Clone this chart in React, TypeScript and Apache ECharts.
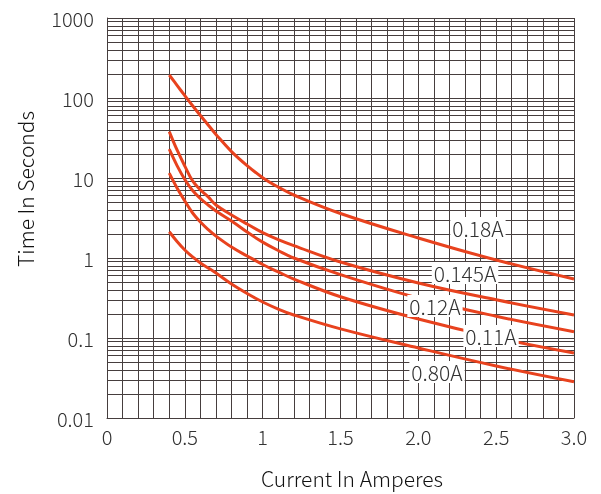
import React, { useEffect, useRef } from "react";
import * as echarts from "echarts";

// Current (A) sample points shared by all curves
const currents = [0.4, 0.45, 0.5, 0.55, 0.6, 0.65, 0.7, 0.8, 0.9, 1.0, 1.1, 1.2, 1.5, 2.0, 2.5, 3.0];

// Trip time (s) for each rated-current curve
const t018 = [194, 144, 107, 80, 60.4, 46, 35, 21.4, 14.3, 10.1, 7.7, 6.13, 3.6, 1.78, 0.944, 0.546];
const t0145 = [38, 22.4, 14.1, 9.2, 7.1, 5.8, 4.6, 3.45, 2.66, 2.08, 1.7, 1.43, 0.89, 0.487, 0.3, 0.194];
const t012 = [22.9, 14.3, 9.58, 6.98, 5.54, 4.6, 3.87, 2.9, 2.11, 1.58, 1.24, 1.0, 0.62, 0.316, 0.187, 0.12];
const t011 = [11.5, 7.5, 5.16, 3.65, 2.82, 2.27, 1.88, 1.37, 1.06, 0.83, 0.67, 0.546, 0.328, 0.173, 0.101, 0.065];
const t080 = [2.13, 1.61, 1.26, 1.03, 0.866, 0.75, 0.65, 0.473, 0.36, 0.282, 0.23, 0.194, 0.13, 0.075, 0.0447, 0.0284];

const curveNames = ["0.18A", "0.145A", "0.12A", "0.11A", "0.80A"];
const curveTimes = [t018, t0145, t012, t011, t080];
// label anchors in data coordinates [current, time]
const labelAnchors: [number, number][] = [
  [2.383, 2.37],
  [2.3, 0.65],
  [2.107, 0.251],
  [2.467, 0.106],
  [2.12, 0.0376],
];

const xTickLabels: Record<number, string> = { 0: "0", 5: "0.5", 10: "1", 15: "1.5", 20: "2.0", 25: "2.5", 30: "3.0" };
const yDecades = [0.01, 0.1, 1, 10, 100];

export default function App() {
  const ref = useRef<HTMLDivElement>(null);
  useEffect(() => {
    const chart = echarts.init(ref.current!, null, { renderer: "svg" });
    const font = '"Noto Sans CJK SC", "Noto Sans", sans-serif';
    const gridColor = "#463e3e";
    const textColor = "#333333";
    const red = "#e8421e";

    const minorVals: number[] = [];
    yDecades.forEach((d) => {
      for (let m = 2; m <= 9; m++) minorVals.push(Number((m * d).toPrecision(3)));
    });

    const series: any[] = [
      {
        type: "line",
        data: [],
        silent: true,
        z: 1,
        markLine: {
          silent: true,
          z: 1,
          symbol: ["none", "none"],
          label: { show: false },
          lineStyle: { color: gridColor, width: 1, type: "solid" },
          emphasis: { disabled: true },
          data: minorVals.map((v) => ({ yAxis: v })),
        },
      },
    ];
    curveNames.forEach((name, i) => {
      series.push({
        type: "line",
        name,
        data: currents.map((c, j) => [c, curveTimes[i][j]]),
        smooth: 0.4,
        showSymbol: false,
        symbol: "none",
        z: 3,
        lineStyle: { color: red, width: 3 },
        markPoint: {
          z: 6,
          symbol: "rect",
          symbolSize: 1,
          itemStyle: { color: "rgba(0,0,0,0)" },
          label: {
            show: true,
            position: "inside",
            formatter: name,
            fontFamily: font,
            fontWeight: 300,
            fontSize: 21,
            color: textColor,
            backgroundColor: "#ffffff",
            padding: [1, 2, 0, 2],
          },
          data: [{ coord: labelAnchors[i], value: name }],
        },
      });
    });

    chart.setOption({
      animation: false,
      grid: { left: 107, top: 18, right: 27, bottom: 76, containLabel: false },
      xAxis: {
        type: "value",
        min: 0,
        max: 3,
        interval: 0.1,
        axisLine: { show: true, lineStyle: { color: gridColor, width: 1 } },
        axisTick: { show: false },
        splitLine: { show: true, lineStyle: { color: gridColor, width: 1 } },
        axisLabel: {
          margin: 8,
          fontFamily: font,
          fontWeight: 300,
          fontSize: 20,
          color: textColor,
          formatter: (v: number) => xTickLabels[Math.round(v * 10)] ?? "",
        },
      },
      yAxis: {
        type: "log",
        logBase: 10,
        min: 0.01,
        max: 1000,
        axisLine: { show: true, lineStyle: { color: gridColor, width: 1 } },
        axisTick: { show: false },
        splitLine: { show: true, lineStyle: { color: gridColor, width: 1 } },
        axisLabel: {
          margin: 13,
          fontFamily: font,
          fontWeight: 300,
          fontSize: 20,
          color: textColor,
          padding: [3, 0, 0, 0],
          formatter: (v: number) => String(v),
        },
      },
      graphic: [
        {
          type: "text",
          x: 25,
          y: 189,
          rotation: Math.PI / 2,
          style: {
            text: "Time In Seconds",
            fontFamily: font,
            fontWeight: 300,
            fontSize: 21,
            fill: "#111",
            align: "center",
            verticalAlign: "middle",
          },
        },
        {
          type: "text",
          x: 352,
          y: 478,
          style: {
            text: "Current In Amperes",
            fontFamily: font,
            fontWeight: 300,
            fontSize: 21,
            fill: "#111",
            align: "center",
            verticalAlign: "middle",
          },
        },
      ],
      series,
    });
    return () => chart.dispose();
  }, []);
  return <div ref={ref} style={{ position: "fixed", left: 0, top: 0, width: 601, height: 494 }} />;
}
